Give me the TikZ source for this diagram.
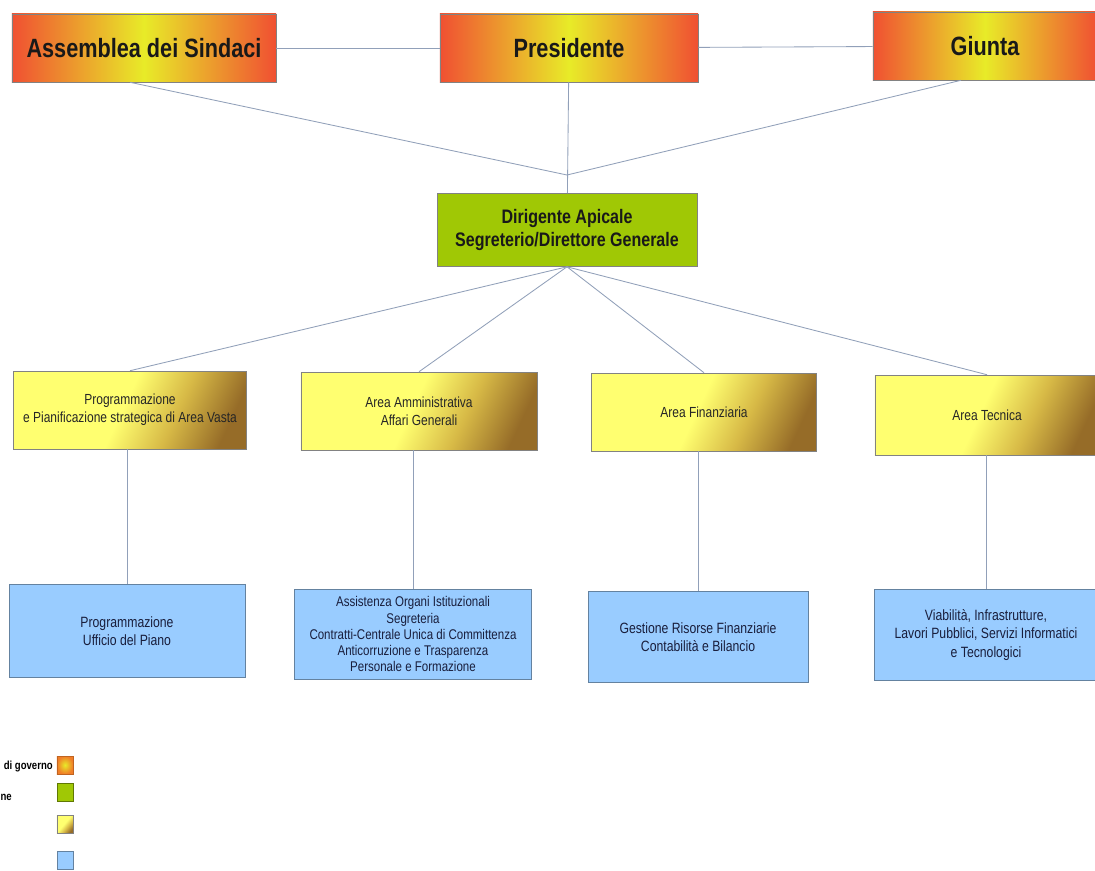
\documentclass[tikz,border=0pt]{standalone}
\usepackage{fontspec}
\setmainfont{Liberation Sans}
\newfontfamily\narrowfont[FakeStretch=0.82]{Liberation Sans}
\usetikzlibrary{positioning}

\definecolor{govred}{RGB}{240,80,50}
\definecolor{govyellow}{RGB}{232,235,40}
\definecolor{govorange}{RGB}{240,125,40}
\definecolor{dirgreen}{RGB}{160,200,5}
\definecolor{areayellow}{RGB}{255,255,112}
\definecolor{areagold}{RGB}{215,185,70}
\definecolor{areabrown}{RGB}{150,108,40}
\definecolor{ufficioblue}{RGB}{153,204,255}
\definecolor{linegray}{RGB}{145,160,185}
\definecolor{boxgray}{RGB}{130,130,130}
\definecolor{bluegray}{RGB}{100,130,160}
\definecolor{navytext}{RGB}{25,30,60}

\pgfdeclarehorizontalshading{areagrad}{100bp}{color(0bp)=(areayellow); color(48bp)=(areayellow); color(62bp)=(areagold); color(76bp)=(areabrown); color(100bp)=(areabrown)}

\begin{document}
\begin{tikzpicture}[x = 0.025cm, y = -0.025cm,
						line/.style = {draw = linegray, line width = 0.6pt},
						governo/.style = {draw = boxgray, left color = govred, right color = govred, middle color = govyellow, text = black!90, font = \narrowfont\bfseries\fontsize{18.8}{22}\selectfont, minimum height = 1.7cm},
						apicale/.style = {draw = boxgray, fill = dirgreen, align = center, text = black!90, font = \narrowfont\bfseries\fontsize{13.9}{17}\selectfont, minimum width = 6.5cm, minimum height = 1.825cm},
						area/.style = {draw = boxgray, shading = areagrad, shading angle = -25, align = center, text = black!85, font = \narrowfont\fontsize{10.4}{12.8}\selectfont, minimum height = 1.95cm},
						ufficio/.style = {draw = bluegray, fill = ufficioblue, align = center, text = navytext, font = \narrowfont\fontsize{10.6}{13}\selectfont, minimum height = 2.3cm},
						legendbox/.style = {draw = boxgray, minimum width = 0.4cm, minimum height = 0.45cm, inner sep = 0pt},
						legendtext/.style = {anchor = east, inner sep = 0pt, font = \narrowfont\bfseries\fontsize{8.3}{10}\selectfont}]
						\useasboundingbox[fill = white] (0, 0) rectangle (1095, 870);
						% organi di governo
						\node[governo, minimum width = 6.6cm] (assemblea) at (144, 48) {Assemblea dei Sindaci};
						\node[governo, minimum width = 6.45cm] (presidente) at (569, 48) {Presidente};
						\node[governo, minimum width = 5.6cm] (giunta) at (985, 46) {Giunta};
						\coordinate (snodo) at (567, 175);
						\draw[line] (assemblea) -- (presidente);
						\draw[line] (presidente) -- (giunta);
						\draw[line] (assemblea.south) ++(-14, 0) -- (snodo);
						\draw[line] (giunta.south) ++(-24, 0) -- (snodo);
						% dirigente
						\node[apicale] (dirigente) at (567, 230) {Dirigente Apicale\\Segreterio/Direttore Generale};
						\draw[line] (presidente) -- (dirigente);
						% aree
						\node[area, minimum width = 5.825cm] (programmazione) at (130, 410) {Programmazione\\e Pianificazione strategica di Area Vasta};
						\node[area, minimum width = 5.9cm] (amministrativa) at (419, 411) {Area Amministrativa\\Affari Generali};
						\node[area, minimum width = 5.625cm] (finanziaria) at (704, 412) {Area Finanziaria};
						\node[area, minimum width = 5.6cm, minimum height = 2cm] (tecnica) at (987, 415) {Area Tecnica};
						\foreach \a in {programmazione, amministrativa, finanziaria, tecnica}
							\draw[line] (dirigente.south) -- (\a.north);
						% uffici
						\node[ufficio, minimum width = 5.9cm, minimum height = 2.325cm] (piano) at (127, 631) {Programmazione\\Ufficio del Piano};
						\node[ufficio, minimum width = 5.925cm, minimum height = 2.25cm, font = \narrowfont\fontsize{10}{11.4}\selectfont] (organi) at (413, 634) {Assistenza Organi Istituzionali\\Segreteria\\Contratti-Centrale Unica di Committenza\\Anticorruzione e Trasparenza\\Personale e Formazione};
						\node[ufficio, minimum width = 5.5cm, minimum height = 2.275cm] (bilancio) at (698, 637) {Gestione Risorse Finanziarie\\Contabilità e Bilancio};
						\node[ufficio, minimum width = 5.6cm, minimum height = 2.275cm] (viabilita) at (986, 635) {Viabilità, Infrastrutture,\\Lavori Pubblici, Servizi Informatici\\e Tecnologici};
						\draw[line] (piano.north) -- (piano.north |- programmazione.south);
						\draw[line] (organi.north) -- (organi.north |- amministrativa.south);
						\draw[line] (bilancio.north) -- (bilancio.north |- finanziaria.south);
						\draw[line] (viabilita.north) -- (viabilita.north |- tecnica.south);
						% legenda
						\node[legendbox, draw = govorange!80!black, inner color = govyellow, outer color = govorange] (legenda1) at (65, 765) {};
						\node[legendbox, fill = dirgreen, draw = dirgreen!60!black] (legenda2) at (65, 792) {};
						\node[legendbox, shading = areagrad, shading angle = -40] (legenda3) at (65, 824) {};
						\node[legendbox, fill = ufficioblue, draw = bluegray] (legenda4) at (65, 860) {};
						\node[legendtext] (testo1) at (53, 766) {di governo};
						\node[legendtext] (testo2) at (12, 797) {ne};
					\end{tikzpicture}
\end{document}
